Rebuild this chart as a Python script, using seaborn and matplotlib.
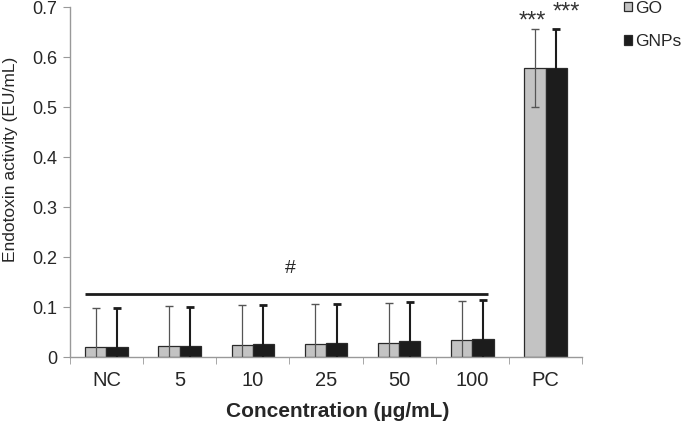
import matplotlib
matplotlib.use("Agg")
import matplotlib.pyplot as plt
import seaborn as sns
import pandas as pd
import numpy as np

categories = ["NC", "5", "10", "25", "50", "100", "PC"]
go_values = [0.021, 0.023, 0.025, 0.027, 0.029, 0.034, 0.578]
gnp_values = [0.021, 0.022, 0.027, 0.029, 0.032, 0.036, 0.578]
go_err = [0.078, 0.079, 0.079, 0.079, 0.079, 0.079, 0.078]
gnp_err = [0.078, 0.078, 0.078, 0.078, 0.079, 0.079, 0.078]
series = ["GO", "GNPs"]

sns.set_style("white")
plt.rcParams['font.family'] = ['Liberation Sans', 'DejaVu Sans']

df = pd.DataFrame({
    "conc": categories * 2,
    "val": go_values + gnp_values,
    "sample": [series[0]] * len(categories) + [series[1]] * len(categories),
})

fig = plt.figure(figsize=(6.85, 4.23), dpi=100)
ax = fig.add_axes([0.102, 0.156, 0.748, 0.827])

colors = {"GO": "#c3c3c3", "GNPs": "#1c1c1c"}
sns.barplot(data=df, x="conc", y="val", hue="sample", order=categories,
            hue_order=series, palette=colors, width=0.58, errorbar=None,
            edgecolor="#2a2a2a", linewidth=0.9, ax=ax, legend=True)

bar_conts = list(ax.containers)[:2]

err_styles = [dict(color="#555555", lw=0.9, capsize=3.2, capthick=1.0),
              dict(color="#1c1c1c", lw=1.5, capsize=3.0, capthick=2.0)]
for cont, errs, st in zip(bar_conts, [go_err, gnp_err], err_styles):
    for bar, e in zip(cont, errs):
        xc = bar.get_x() + bar.get_width() / 2
        h = bar.get_height()
        ax.errorbar(xc, h, yerr=e, fmt="none", ecolor=st["color"],
                    elinewidth=st["lw"], capsize=st["capsize"],
                    capthick=st["capthick"], zorder=5)

# significance annotations
pc_bars = [cont[6] for cont in bar_conts]
ax.text(pc_bars[0].get_x() + pc_bars[0].get_width() / 2 - 0.03, 0.694, "***",
        ha="center", va="top", fontsize=17, color="#333333")
ax.text(pc_bars[1].get_x() + pc_bars[1].get_width() / 2 + 0.14, 0.711, "***",
        ha="center", va="top", fontsize=17, color="#333333")

left_bar = bar_conts[0][0]
right_bar = bar_conts[1][5]
x0 = left_bar.get_x() - 0.005
x1 = right_bar.get_x() + right_bar.get_width() - 0.075
ax.plot([x0, x1], [0.126, 0.126], color="#1c1c1c", lw=2.0, solid_capstyle="butt")
ax.text((x0 + x1) / 2 + 0.05, 0.177, "#", ha="center", va="center", fontsize=14)

ax.set_ylim(0, 0.7)
ax.set_xlim(-0.5, 6.5)
ax.set_yticks(np.arange(0, 0.71, 0.1))
ax.set_yticklabels(["0"] + [f"{v:.1f}" for v in np.arange(0.1, 0.71, 0.1)], fontsize=13)
ax.set_xticks(range(len(categories)))
ax.set_xticklabels(categories, fontsize=14.5)
ax.set_xticks(np.arange(-0.5, 6.6, 1.0), minor=True)
ax.tick_params(axis="x", which="major", length=0, pad=10)
ax.tick_params(axis="x", which="minor", length=5, color="#999999", direction="out", bottom=True)
ax.tick_params(axis="y", length=5, color="#999999", direction="out", left=True, pad=4)

for s in ["top", "right"]:
    ax.spines[s].set_visible(False)
for s in ["left", "bottom"]:
    ax.spines[s].set_color("#999999")
    ax.spines[s].set_linewidth(1.0)

ax.set_ylabel("Endotoxin activity (EU/mL)", fontsize=12.5)
ax.yaxis.set_label_coords(-0.102, 0.566)
ax.set_xlabel("Concentration (\u00b5g/mL)", fontsize=15, fontweight="bold")
ax.xaxis.set_label_coords(0.523, -0.128)

handles, labels = ax.get_legend_handles_labels()
ax.get_legend().remove()
leg = fig.legend(handles, labels, loc="upper left", bbox_to_anchor=(624 / 685, 0.998),
                 frameon=False, fontsize=12.5, handlelength=0.45, handleheight=0.45,
                 handletextpad=0.2, labelspacing=1.05, borderpad=0, borderaxespad=0)

fig.savefig("out.png", dpi=100)
